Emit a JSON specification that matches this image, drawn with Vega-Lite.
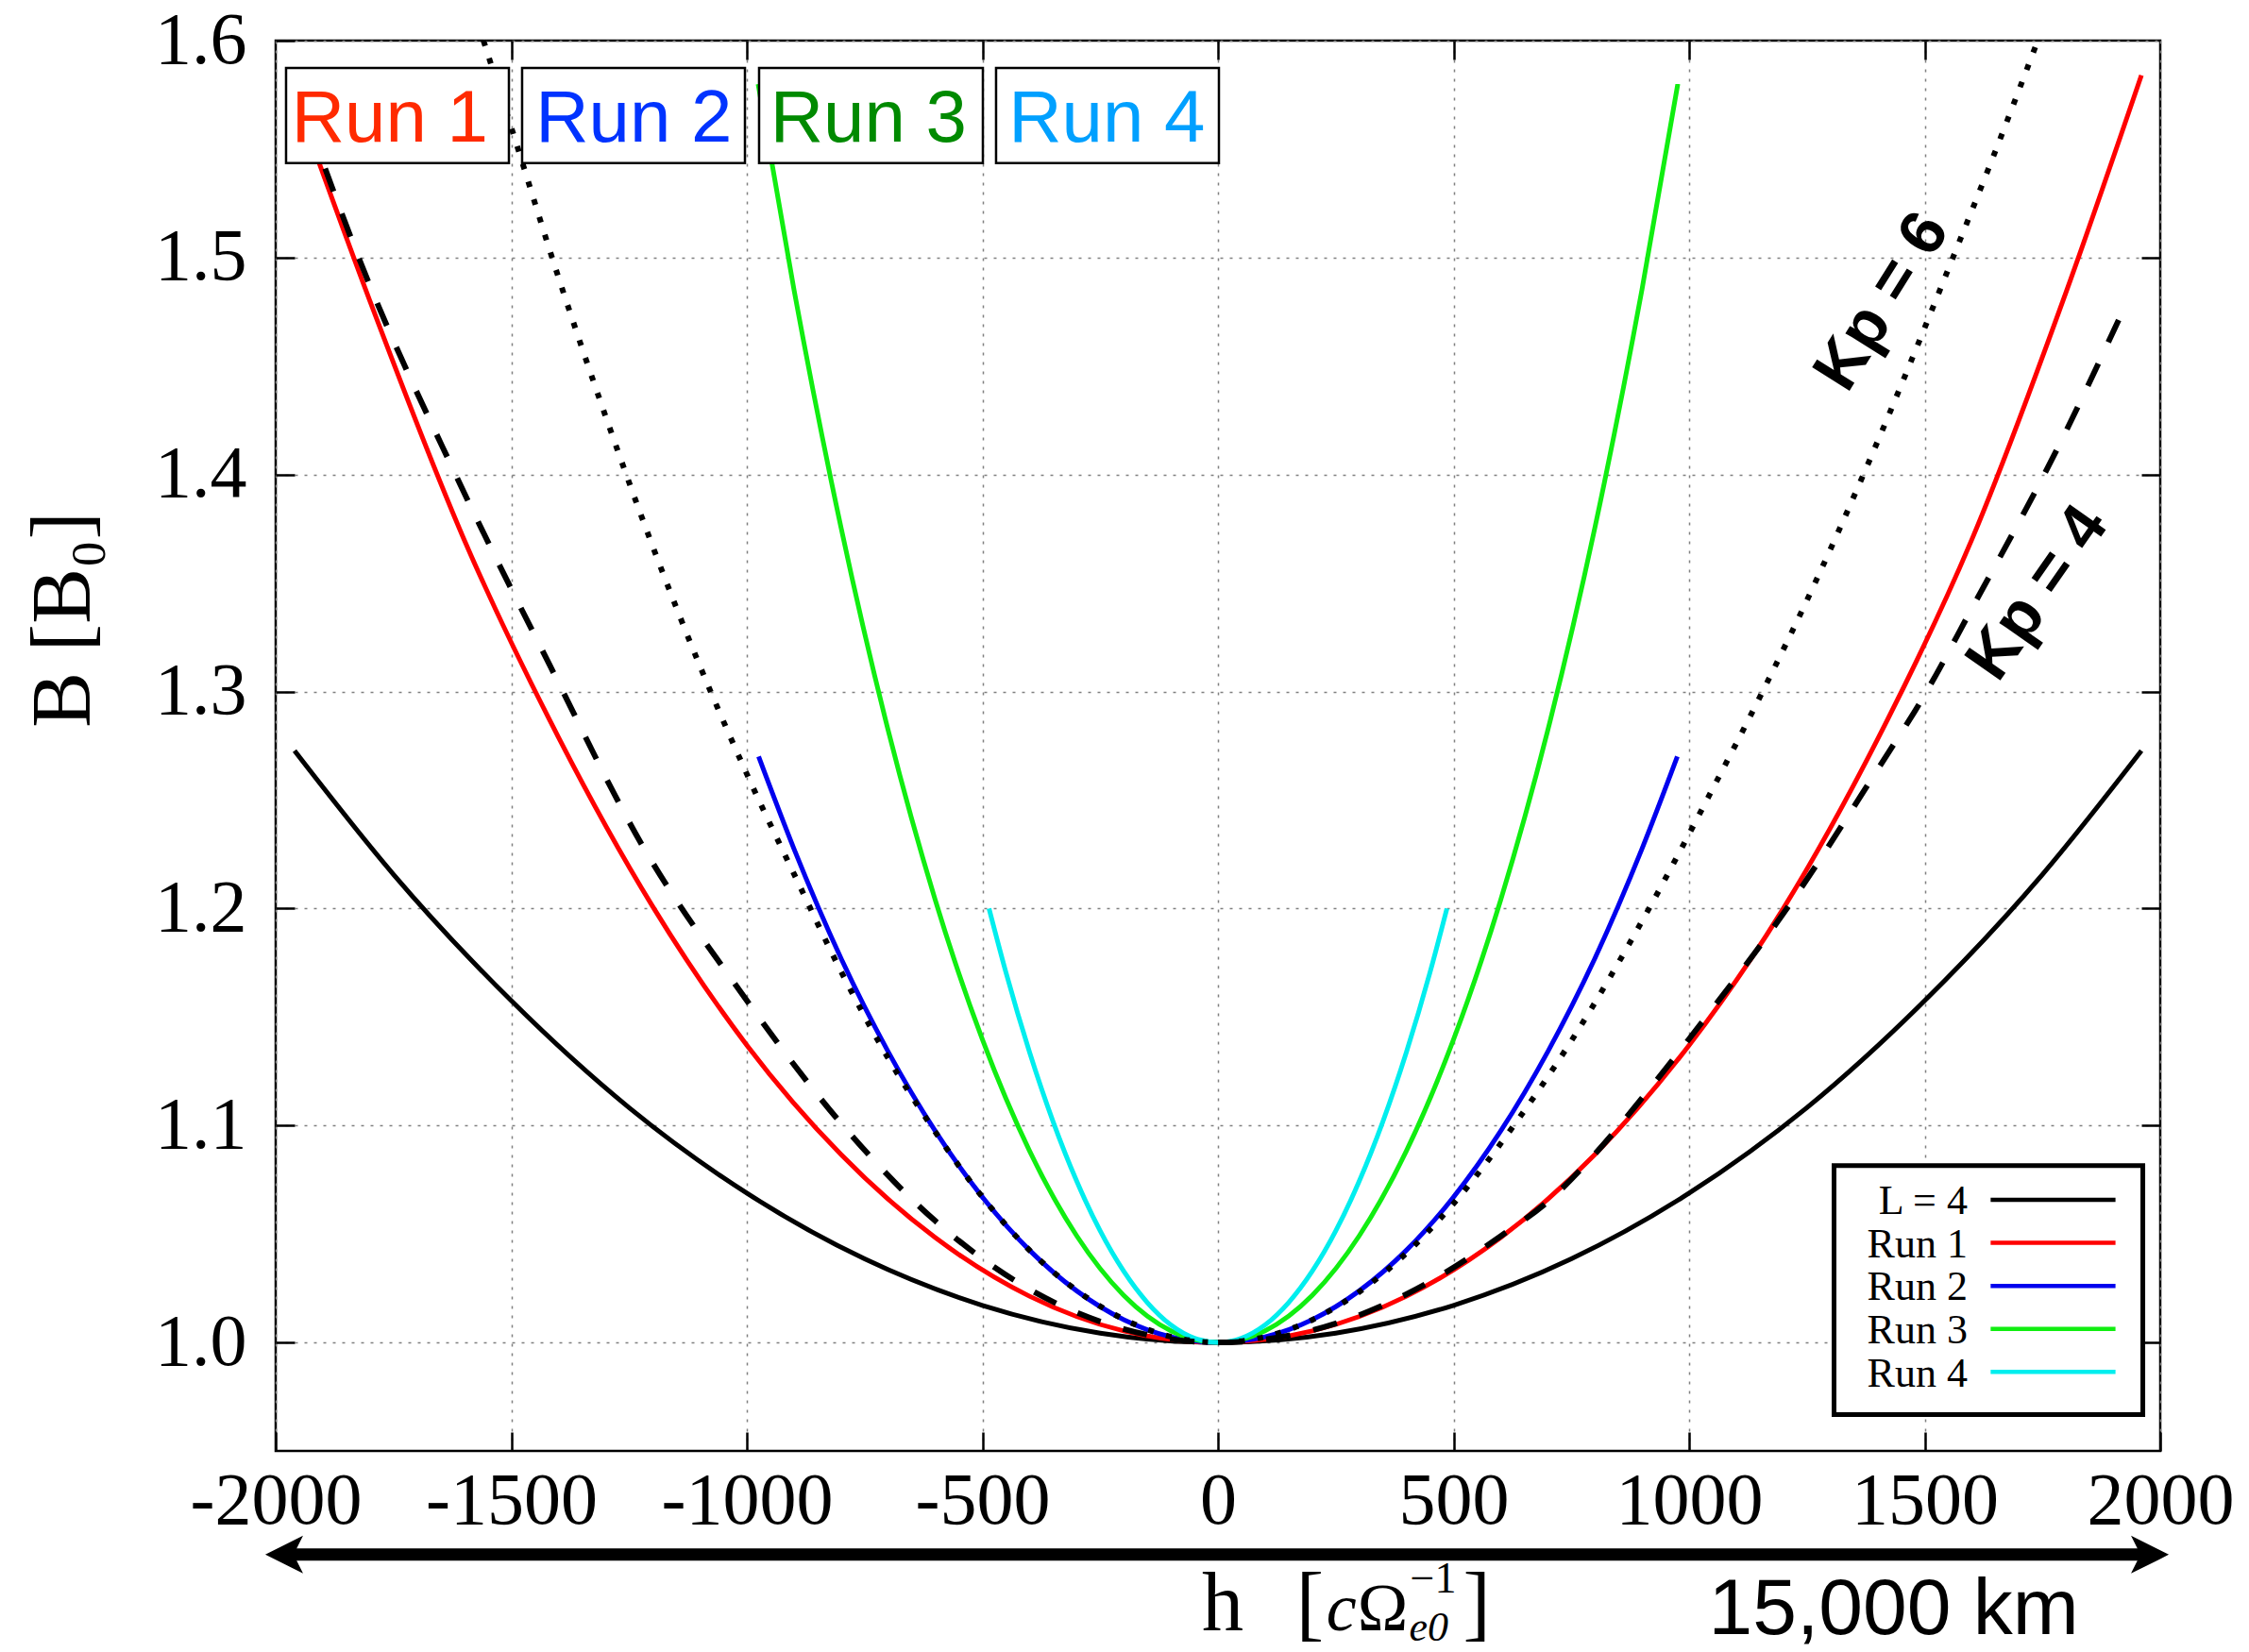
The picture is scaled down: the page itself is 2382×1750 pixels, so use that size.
{
  "$schema": "https://vega.github.io/schema/vega-lite/v6.json",
  "width": 1996,
  "height": 1494,
  "autosize": {"type": "none"},
  "padding": {"left": 292, "top": 43, "right": 94, "bottom": 213},
  "background": "white",
  "config": {"view": {"stroke": "black", "strokeWidth": 2.5}},
  "datasets": {
    "curves": [
      {"series": "L = 4", "h": -1960, "B": 1.2727}, {"series": "L = 4", "h": -1750, "B": 1.2157}, {"series": "L = 4", "h": -1500, "B": 1.1575}, {"series": "L = 4", "h": -1250, "B": 1.1082}, {"series": "L = 4", "h": -1000, "B": 1.0688}, {"series": "L = 4", "h": -750, "B": 1.0385}, {"series": "L = 4", "h": -500, "B": 1.0171}, {"series": "L = 4", "h": -250, "B": 1.0043}, {"series": "L = 4", "h": 0, "B": 1.0}, {"series": "L = 4", "h": 250, "B": 1.0043}, {"series": "L = 4", "h": 500, "B": 1.0171}, {"series": "L = 4", "h": 750, "B": 1.0385}, {"series": "L = 4", "h": 1000, "B": 1.0688}, {"series": "L = 4", "h": 1250, "B": 1.1082}, {"series": "L = 4", "h": 1500, "B": 1.1575}, {"series": "L = 4", "h": 1750, "B": 1.2157}, {"series": "L = 4", "h": 1960, "B": 1.2727},

      {"series": "Run 1", "h": -1960, "B": 1.575}, {"series": "Run 1", "h": -1800, "B": 1.48}, {"series": "Run 1", "h": -1600, "B": 1.37}, {"series": "Run 1", "h": -1400, "B": 1.279}, {"series": "Run 1", "h": -1200, "B": 1.201}, {"series": "Run 1", "h": -1000, "B": 1.137}, {"series": "Run 1", "h": -800, "B": 1.0866}, {"series": "Run 1", "h": -600, "B": 1.0483}, {"series": "Run 1", "h": -400, "B": 1.0213}, {"series": "Run 1", "h": -200, "B": 1.0053}, {"series": "Run 1", "h": 0, "B": 1.0}, {"series": "Run 1", "h": 200, "B": 1.0053}, {"series": "Run 1", "h": 400, "B": 1.0213}, {"series": "Run 1", "h": 600, "B": 1.0483}, {"series": "Run 1", "h": 800, "B": 1.0866}, {"series": "Run 1", "h": 1000, "B": 1.137}, {"series": "Run 1", "h": 1200, "B": 1.2}, {"series": "Run 1", "h": 1400, "B": 1.278}, {"series": "Run 1", "h": 1600, "B": 1.37}, {"series": "Run 1", "h": 1800, "B": 1.484}, {"series": "Run 1", "h": 1960, "B": 1.584},

      {"series": "Run 2", "h": -975, "B": 1.27}, {"series": "Run 2", "h": -900, "B": 1.2275}, {"series": "Run 2", "h": -800, "B": 1.177}, {"series": "Run 2", "h": -700, "B": 1.134}, {"series": "Run 2", "h": -600, "B": 1.0974}, {"series": "Run 2", "h": -500, "B": 1.067}, {"series": "Run 2", "h": -400, "B": 1.0425}, {"series": "Run 2", "h": -300, "B": 1.0238}, {"series": "Run 2", "h": -200, "B": 1.0105}, {"series": "Run 2", "h": -100, "B": 1.0026}, {"series": "Run 2", "h": 0, "B": 1.0}, {"series": "Run 2", "h": 100, "B": 1.0026}, {"series": "Run 2", "h": 200, "B": 1.0105}, {"series": "Run 2", "h": 300, "B": 1.0238}, {"series": "Run 2", "h": 400, "B": 1.0425}, {"series": "Run 2", "h": 500, "B": 1.067}, {"series": "Run 2", "h": 600, "B": 1.0974}, {"series": "Run 2", "h": 700, "B": 1.134}, {"series": "Run 2", "h": 800, "B": 1.177}, {"series": "Run 2", "h": 900, "B": 1.2275}, {"series": "Run 2", "h": 975, "B": 1.27},

      {"series": "Run 3", "h": -976, "B": 1.58}, {"series": "Run 3", "h": -900, "B": 1.4853}, {"series": "Run 3", "h": -800, "B": 1.3755}, {"series": "Run 3", "h": -700, "B": 1.2821}, {"series": "Run 3", "h": -600, "B": 1.2039}, {"series": "Run 3", "h": -500, "B": 1.1396}, {"series": "Run 3", "h": -400, "B": 1.0883}, {"series": "Run 3", "h": -300, "B": 1.0492}, {"series": "Run 3", "h": -200, "B": 1.0217}, {"series": "Run 3", "h": -100, "B": 1.0054}, {"series": "Run 3", "h": 0, "B": 1.0}, {"series": "Run 3", "h": 100, "B": 1.0054}, {"series": "Run 3", "h": 200, "B": 1.0217}, {"series": "Run 3", "h": 300, "B": 1.0492}, {"series": "Run 3", "h": 400, "B": 1.0883}, {"series": "Run 3", "h": 500, "B": 1.1396}, {"series": "Run 3", "h": 600, "B": 1.2039}, {"series": "Run 3", "h": 700, "B": 1.2821}, {"series": "Run 3", "h": 800, "B": 1.3755}, {"series": "Run 3", "h": 900, "B": 1.4853}, {"series": "Run 3", "h": 976, "B": 1.58},

      {"series": "Run 4", "h": -486, "B": 1.2}, {"series": "Run 4", "h": -450, "B": 1.1705}, {"series": "Run 4", "h": -400, "B": 1.1338}, {"series": "Run 4", "h": -350, "B": 1.1018}, {"series": "Run 4", "h": -300, "B": 1.0744}, {"series": "Run 4", "h": -250, "B": 1.0514}, {"series": "Run 4", "h": -200, "B": 1.0328}, {"series": "Run 4", "h": -150, "B": 1.0184}, {"series": "Run 4", "h": -100, "B": 1.0081}, {"series": "Run 4", "h": -50, "B": 1.002}, {"series": "Run 4", "h": 0, "B": 1.0}, {"series": "Run 4", "h": 50, "B": 1.002}, {"series": "Run 4", "h": 100, "B": 1.0081}, {"series": "Run 4", "h": 150, "B": 1.0184}, {"series": "Run 4", "h": 200, "B": 1.0328}, {"series": "Run 4", "h": 250, "B": 1.0514}, {"series": "Run 4", "h": 300, "B": 1.0744}, {"series": "Run 4", "h": 350, "B": 1.1018}, {"series": "Run 4", "h": 400, "B": 1.1338}, {"series": "Run 4", "h": 450, "B": 1.1705}, {"series": "Run 4", "h": 486, "B": 1.2},

      {"series": "Kp = 4", "h": -1930, "B": 1.562}, {"series": "Kp = 4", "h": -1821, "B": 1.4984}, {"series": "Kp = 4", "h": -1617, "B": 1.3994}, {"series": "Kp = 4", "h": -1418, "B": 1.312}, {"series": "Kp = 4", "h": -1220, "B": 1.2284}, {"series": "Kp = 4", "h": -1016, "B": 1.1624}, {"series": "Kp = 4", "h": -800, "B": 1.101}, {"series": "Kp = 4", "h": -600, "B": 1.056}, {"series": "Kp = 4", "h": -400, "B": 1.0245}, {"series": "Kp = 4", "h": -200, "B": 1.0062}, {"series": "Kp = 4", "h": 0, "B": 1.0}, {"series": "Kp = 4", "h": 200, "B": 1.0056}, {"series": "Kp = 4", "h": 400, "B": 1.0222}, {"series": "Kp = 4", "h": 600, "B": 1.049}, {"series": "Kp = 4", "h": 708, "B": 1.0664}, {"series": "Kp = 4", "h": 800, "B": 1.0868}, {"series": "Kp = 4", "h": 915, "B": 1.1166}, {"series": "Kp = 4", "h": 1029, "B": 1.148}, {"series": "Kp = 4", "h": 1222, "B": 1.2045}, {"series": "Kp = 4", "h": 1396, "B": 1.2627}, {"series": "Kp = 4", "h": 1503, "B": 1.2996}, {"series": "Kp = 4", "h": 1597, "B": 1.337}, {"series": "Kp = 4", "h": 1784, "B": 1.413}, {"series": "Kp = 4", "h": 1930, "B": 1.4798},

      {"series": "Kp = 6", "h": -1559, "B": 1.6}, {"series": "Kp = 6", "h": -1500, "B": 1.56}, {"series": "Kp = 6", "h": -1400, "B": 1.491}, {"series": "Kp = 6", "h": -1300, "B": 1.427}, {"series": "Kp = 6", "h": -1200, "B": 1.367}, {"series": "Kp = 6", "h": -1100, "B": 1.312}, {"series": "Kp = 6", "h": -1000, "B": 1.262}, {"series": "Kp = 6", "h": -900, "B": 1.216}, {"series": "Kp = 6", "h": -800, "B": 1.171}, {"series": "Kp = 6", "h": -700, "B": 1.131}, {"series": "Kp = 6", "h": -600, "B": 1.097}, {"series": "Kp = 6", "h": -500, "B": 1.067}, {"series": "Kp = 6", "h": -400, "B": 1.0425}, {"series": "Kp = 6", "h": -300, "B": 1.024}, {"series": "Kp = 6", "h": -200, "B": 1.0107}, {"series": "Kp = 6", "h": -100, "B": 1.0027}, {"series": "Kp = 6", "h": 0, "B": 1.0}, {"series": "Kp = 6", "h": 100, "B": 1.0026}, {"series": "Kp = 6", "h": 200, "B": 1.0104}, {"series": "Kp = 6", "h": 300, "B": 1.0233}, {"series": "Kp = 6", "h": 400, "B": 1.0412}, {"series": "Kp = 6", "h": 500, "B": 1.064}, {"series": "Kp = 6", "h": 628, "B": 1.1}, {"series": "Kp = 6", "h": 750, "B": 1.139}, {"series": "Kp = 6", "h": 915, "B": 1.2}, {"series": "Kp = 6", "h": 1040, "B": 1.251}, {"series": "Kp = 6", "h": 1156, "B": 1.3}, {"series": "Kp = 6", "h": 1265, "B": 1.349}, {"series": "Kp = 6", "h": 1370, "B": 1.4}, {"series": "Kp = 6", "h": 1465, "B": 1.449}, {"series": "Kp = 6", "h": 1560, "B": 1.5}, {"series": "Kp = 6", "h": 1650, "B": 1.549}, {"series": "Kp = 6", "h": 1740, "B": 1.6}
    ]
  },
  "resolve": {"axis": {"x": "independent", "y": "independent"}},
  "layer": [
    {
      "data": {"name": "curves"},
      "transform": [{"filter": {"field": "series", "oneOf": ["L = 4", "Run 1", "Run 2", "Run 3", "Run 4"]}}],
      "mark": {"type": "line", "strokeWidth": 5, "interpolate": "monotone"},
      "encoding": {
        "x": {"field": "h", "type": "quantitative", "scale": {"domain": [-2000, 2000], "nice": false, "zero": false},
          "axis": {"orient": "bottom", "values": [-2000, -1500, -1000, -500, 0, 500, 1000, 1500, 2000], "labelExpr": "'' + datum.value", "labelFont": "Liberation Serif", "labelFontSize": 78, "labelColor": "black", "labelPadding": 34, "labelLimit": 0, "labelFlush": false, "labelOverlap": false, "ticks": true, "tickSize": -20, "tickWidth": 2.5, "tickColor": "black", "domain": false, "grid": true, "gridColor": "#808080", "gridDash": [3, 7], "gridWidth": 1.5, "title": null}},
        "y": {"field": "B", "type": "quantitative", "scale": {"domain": [0.95, 1.6], "nice": false, "zero": false},
          "axis": {"orient": "left", "values": [1.0, 1.1, 1.2, 1.3, 1.4, 1.5, 1.6], "format": ".1f", "labelFont": "Liberation Serif", "labelFontSize": 78, "labelColor": "black", "labelPadding": 51, "labelLimit": 0, "labelOverlap": false, "labelFlush": false, "ticks": true, "tickSize": -20, "tickWidth": 2.5, "tickColor": "black", "domain": false, "grid": true, "gridColor": "#808080", "gridDash": [3, 7], "gridWidth": 1.5, "title": "B [B₀]", "titleFont": "Liberation Serif", "titleFontSize": 88, "titleFontWeight": "normal", "titleColor": "black", "titleAngle": 270, "titleX": -199, "titleY": 613, "titleAlign": "center", "titleBaseline": "alphabetic"}},
        "color": {"field": "series", "type": "nominal", "scale": {"domain": ["L = 4", "Run 1", "Run 2", "Run 3", "Run 4"], "range": ["#000000", "#FF0000", "#0000EE", "#11EE11", "#00EEEE"]}, "legend": null}
      }
    },
    {
      "data": {"name": "curves"},
      "transform": [{"filter": {"field": "series", "equal": "Kp = 4"}}],
      "mark": {"type": "line", "strokeWidth": 6, "color": "black", "strokeDash": [26, 25], "interpolate": "monotone"},
      "encoding": {
        "x": {"field": "h", "type": "quantitative",
          "axis": {"orient": "top", "values": [-1500, -1000, -500, 0, 500, 1000, 1500], "labels": false, "ticks": true, "tickSize": -20, "tickWidth": 2.5, "tickColor": "black", "domain": false, "grid": false, "title": null}},
        "y": {"field": "B", "type": "quantitative",
          "axis": {"orient": "right", "values": [1.0, 1.1, 1.2, 1.3, 1.4, 1.5], "labels": false, "ticks": true, "tickSize": -20, "tickWidth": 2.5, "tickColor": "black", "domain": false, "grid": false, "title": null}}
      }
    },
    {
      "data": {"name": "curves"},
      "transform": [{"filter": {"field": "series", "equal": "Kp = 6"}}],
      "mark": {"type": "line", "strokeWidth": 6, "color": "black", "strokeDash": [6, 13.6], "interpolate": "monotone"},
      "encoding": {
        "x": {"field": "h", "type": "quantitative", "axis": null},
        "y": {"field": "B", "type": "quantitative", "axis": null}
      }
    },
    {
      "data": {"values": [{}]},
      "layer": [
        {"mark": {"type": "rect", "fill": "white", "stroke": "black", "strokeWidth": 2.5}, "encoding": {"x": {"datum": -1978, "type": "quantitative", "axis": null}, "x2": {"datum": -1505}, "y": {"datum": 1.5874, "type": "quantitative", "axis": null}, "y2": {"datum": 1.5435}}},
        {"mark": {"type": "rect", "fill": "white", "stroke": "black", "strokeWidth": 2.5}, "encoding": {"x": {"datum": -1477, "type": "quantitative", "axis": null}, "x2": {"datum": -1004}, "y": {"datum": 1.5874, "type": "quantitative", "axis": null}, "y2": {"datum": 1.5435}}},
        {"mark": {"type": "rect", "fill": "white", "stroke": "black", "strokeWidth": 2.5}, "encoding": {"x": {"datum": -974, "type": "quantitative", "axis": null}, "x2": {"datum": -499}, "y": {"datum": 1.5874, "type": "quantitative", "axis": null}, "y2": {"datum": 1.5435}}},
        {"mark": {"type": "rect", "fill": "white", "stroke": "black", "strokeWidth": 2.5}, "encoding": {"x": {"datum": -471, "type": "quantitative", "axis": null}, "x2": {"datum": 2}, "y": {"datum": 1.5874, "type": "quantitative", "axis": null}, "y2": {"datum": 1.5435}}},
        {"mark": {"type": "text", "text": "Run 1", "font": "Liberation Sans", "fontSize": 78, "color": "#FF2A00", "align": "center", "baseline": "alphabetic"}, "encoding": {"x": {"datum": -1758, "type": "quantitative", "axis": null}, "y": {"datum": 1.5535, "type": "quantitative", "axis": null}}},
        {"mark": {"type": "text", "text": "Run 2", "font": "Liberation Sans", "fontSize": 78, "color": "#0033FF", "align": "center", "baseline": "alphabetic"}, "encoding": {"x": {"datum": -1240, "type": "quantitative", "axis": null}, "y": {"datum": 1.5535, "type": "quantitative", "axis": null}}},
        {"mark": {"type": "text", "text": "Run 3", "font": "Liberation Sans", "fontSize": 78, "color": "#008A00", "align": "center", "baseline": "alphabetic"}, "encoding": {"x": {"datum": -742, "type": "quantitative", "axis": null}, "y": {"datum": 1.5535, "type": "quantitative", "axis": null}}},
        {"mark": {"type": "text", "text": "Run 4", "font": "Liberation Sans", "fontSize": 78, "color": "#00A0FF", "align": "center", "baseline": "alphabetic"}, "encoding": {"x": {"datum": -236, "type": "quantitative", "axis": null}, "y": {"datum": 1.5535, "type": "quantitative", "axis": null}}},

        {"mark": {"type": "rect", "fill": "white", "stroke": "black", "strokeWidth": 5}, "encoding": {"x": {"datum": 1307.6, "type": "quantitative", "axis": null}, "x2": {"datum": 1963}, "y": {"datum": 1.0815, "type": "quantitative", "axis": null}, "y2": {"datum": 0.9667}}},
        {"mark": {"type": "text", "text": "L = 4", "font": "Liberation Serif", "fontSize": 44, "color": "black", "align": "right", "baseline": "alphabetic"}, "encoding": {"x": {"datum": 1591, "type": "quantitative", "axis": null}, "y": {"datum": 1.0591, "type": "quantitative", "axis": null}}},
        {"mark": {"type": "text", "text": "Run 1", "font": "Liberation Serif", "fontSize": 44, "color": "black", "align": "right", "baseline": "alphabetic"}, "encoding": {"x": {"datum": 1591, "type": "quantitative", "axis": null}, "y": {"datum": 1.0393, "type": "quantitative", "axis": null}}},
        {"mark": {"type": "text", "text": "Run 2", "font": "Liberation Serif", "fontSize": 44, "color": "black", "align": "right", "baseline": "alphabetic"}, "encoding": {"x": {"datum": 1591, "type": "quantitative", "axis": null}, "y": {"datum": 1.0196, "type": "quantitative", "axis": null}}},
        {"mark": {"type": "text", "text": "Run 3", "font": "Liberation Serif", "fontSize": 44, "color": "black", "align": "right", "baseline": "alphabetic"}, "encoding": {"x": {"datum": 1591, "type": "quantitative", "axis": null}, "y": {"datum": 0.9996, "type": "quantitative", "axis": null}}},
        {"mark": {"type": "text", "text": "Run 4", "font": "Liberation Serif", "fontSize": 44, "color": "black", "align": "right", "baseline": "alphabetic"}, "encoding": {"x": {"datum": 1591, "type": "quantitative", "axis": null}, "y": {"datum": 0.9798, "type": "quantitative", "axis": null}}},
        {"mark": {"type": "rule", "strokeWidth": 4.5, "color": "#000000"}, "encoding": {"x": {"datum": 1640, "type": "quantitative", "axis": null}, "x2": {"datum": 1905}, "y": {"datum": 1.0657, "type": "quantitative", "axis": null}}},
        {"mark": {"type": "rule", "strokeWidth": 4.5, "color": "#FF0000"}, "encoding": {"x": {"datum": 1640, "type": "quantitative", "axis": null}, "x2": {"datum": 1905}, "y": {"datum": 1.0459, "type": "quantitative", "axis": null}}},
        {"mark": {"type": "rule", "strokeWidth": 4.5, "color": "#0000EE"}, "encoding": {"x": {"datum": 1640, "type": "quantitative", "axis": null}, "x2": {"datum": 1905}, "y": {"datum": 1.026, "type": "quantitative", "axis": null}}},
        {"mark": {"type": "rule", "strokeWidth": 4.5, "color": "#11EE11"}, "encoding": {"x": {"datum": 1640, "type": "quantitative", "axis": null}, "x2": {"datum": 1905}, "y": {"datum": 1.0062, "type": "quantitative", "axis": null}}},
        {"mark": {"type": "rule", "strokeWidth": 4.5, "color": "#00EEEE"}, "encoding": {"x": {"datum": 1640, "type": "quantitative", "axis": null}, "x2": {"datum": 1905}, "y": {"datum": 0.9864, "type": "quantitative", "axis": null}}},

        {"mark": {"type": "text", "text": "Kp = 6", "font": "Liberation Sans", "fontWeight": "bold", "fontSize": 68, "color": "black", "align": "center", "baseline": "middle", "angle": 302}, "encoding": {"x": {"datum": 1411, "type": "quantitative", "axis": null}, "y": {"datum": 1.4796, "type": "quantitative", "axis": null}}},
        {"mark": {"type": "text", "text": "Kp = 4", "font": "Liberation Sans", "fontWeight": "bold", "fontSize": 68, "color": "black", "align": "center", "baseline": "middle", "angle": 305}, "encoding": {"x": {"datum": 1741, "type": "quantitative", "axis": null}, "y": {"datum": 1.3452, "type": "quantitative", "axis": null}}},

        {"mark": {"type": "rule", "strokeWidth": 13, "color": "black"}, "encoding": {"x": {"datum": -1982, "type": "quantitative", "axis": null}, "x2": {"datum": 1978}, "y": {"datum": 0.9022, "type": "quantitative", "axis": null}}},
        {"mark": {"type": "point", "shape": "M1,0L-1,-1L-0.5,0L-1,1Z", "filled": true, "size": 1600, "color": "black", "opacity": 1}, "encoding": {"x": {"datum": 1978, "type": "quantitative", "axis": null}, "y": {"datum": 0.9022, "type": "quantitative", "axis": null}}},
        {"mark": {"type": "point", "shape": "M-1,0L1,-1L0.5,0L1,1Z", "filled": true, "size": 1600, "color": "black", "opacity": 1}, "encoding": {"x": {"datum": -1982, "type": "quantitative", "axis": null}, "y": {"datum": 0.9022, "type": "quantitative", "axis": null}}},
        {"mark": {"type": "text", "text": "15,000 km", "font": "Liberation Sans", "fontSize": 84, "color": "black", "align": "center", "baseline": "alphabetic"}, "encoding": {"x": {"datum": 1434, "type": "quantitative", "axis": null}, "y": {"datum": 0.8656, "type": "quantitative", "axis": null}}},

        {"mark": {"type": "text", "text": "h", "font": "Liberation Serif", "fontSize": 88, "color": "black", "align": "left", "baseline": "alphabetic"}, "encoding": {"x": {"datum": -34, "type": "quantitative", "axis": null}, "y": {"datum": 0.8675, "type": "quantitative", "axis": null}}},
        {"mark": {"type": "text", "text": "[", "font": "Liberation Serif", "fontSize": 88, "color": "black", "align": "left", "baseline": "alphabetic"}, "encoding": {"x": {"datum": 166, "type": "quantitative", "axis": null}, "y": {"datum": 0.8675, "type": "quantitative", "axis": null}}},
        {"mark": {"type": "text", "text": "c", "font": "Liberation Serif", "fontStyle": "italic", "fontSize": 72, "color": "black", "align": "left", "baseline": "alphabetic"}, "encoding": {"x": {"datum": 230, "type": "quantitative", "axis": null}, "y": {"datum": 0.8675, "type": "quantitative", "axis": null}}},
        {"mark": {"type": "text", "text": "Ω", "font": "Liberation Serif", "fontSize": 72, "color": "black", "align": "left", "baseline": "alphabetic"}, "encoding": {"x": {"datum": 296, "type": "quantitative", "axis": null}, "y": {"datum": 0.8675, "type": "quantitative", "axis": null}}},
        {"mark": {"type": "text", "text": "−1", "font": "Liberation Serif", "fontSize": 46, "color": "black", "align": "left", "baseline": "alphabetic"}, "encoding": {"x": {"datum": 408, "type": "quantitative", "axis": null}, "y": {"datum": 0.8848, "type": "quantitative", "axis": null}}},
        {"mark": {"type": "text", "text": "e0", "font": "Liberation Serif", "fontStyle": "italic", "fontSize": 44, "color": "black", "align": "left", "baseline": "alphabetic"}, "encoding": {"x": {"datum": 406, "type": "quantitative", "axis": null}, "y": {"datum": 0.8626, "type": "quantitative", "axis": null}}},
        {"mark": {"type": "text", "text": "]", "font": "Liberation Serif", "fontSize": 88, "color": "black", "align": "left", "baseline": "alphabetic"}, "encoding": {"x": {"datum": 520, "type": "quantitative", "axis": null}, "y": {"datum": 0.8675, "type": "quantitative", "axis": null}}}
      ]
    }
  ]
}
